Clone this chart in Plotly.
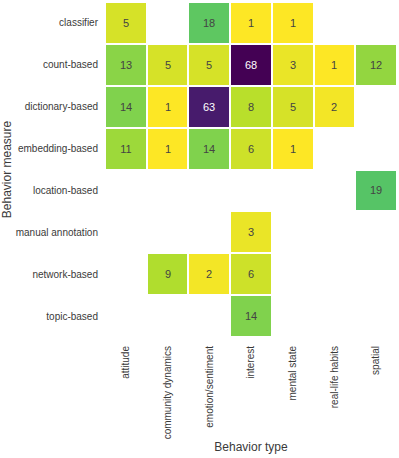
import plotly.graph_objects as go

behavior_types = ['attitude', 'community dynamics', 'emotion/sentiment', 'interest',
                  'mental state', 'real-life habits', 'spatial']
behavior_measures = ['classifier', 'count-based', 'dictionary-based', 'embedding-based',
                     'location-based', 'manual annotation', 'network-based', 'topic-based']

# counts per measure row, in behavior_types order (None = no papers)
classifier = [5, None, 18, 1, 1, None, None]
count_based = [13, 5, 5, 68, 3, 1, 12]
dictionary_based = [14, 1, 63, 8, 5, 2, None]
embedding_based = [11, 1, 14, 6, 1, None, None]
location_based = [None, None, None, None, None, None, 19]
manual_annotation = [None, None, None, 3, None, None, None]
network_based = [None, 9, 2, 6, None, None, None]
topic_based = [None, None, None, 14, None, None, None]

z = [classifier, count_based, dictionary_based, embedding_based,
     location_based, manual_annotation, network_based, topic_based]

fig = go.Figure()
fig.add_trace(go.Heatmap(
    z=z, x=behavior_types, y=behavior_measures,
    colorscale='Viridis', reversescale=True, showscale=False,
    xgap=2, ygap=2, hoverongaps=False,
    texttemplate='%{z}', textfont={'size': 11, 'family': 'Liberation Sans, Arial'},
))

fig.layout = {
    'width': 399,
    'height': 458,
    'margin': {'l': 105, 'r': 2, 't': 2, 'b': 121},
    'plot_bgcolor': 'white',
    'paper_bgcolor': 'white',
    'font': {'family': 'Liberation Sans, Arial', 'size': 10, 'color': '#3a3a3a'},
    'xaxis': {
        'title': {'text': 'Behavior type', 'font': {'size': 12}, 'standoff': 4},
        'tickangle': -90, 'showgrid': False, 'zeroline': False, 'automargin': False,
        'ticks': '', 'ticklabelstandoff': 6,
    },
    'yaxis': {
        'title': {'text': 'Behavior measure', 'font': {'size': 12}, 'standoff': 4},
        'autorange': 'reversed', 'showgrid': False, 'zeroline': False, 'automargin': False,
        'ticks': '', 'ticklabelstandoff': 6,
    },
}

fig.write_html('out.html', config={'displayModeBar': False},
               post_script="document.body.style.margin = '0';")
